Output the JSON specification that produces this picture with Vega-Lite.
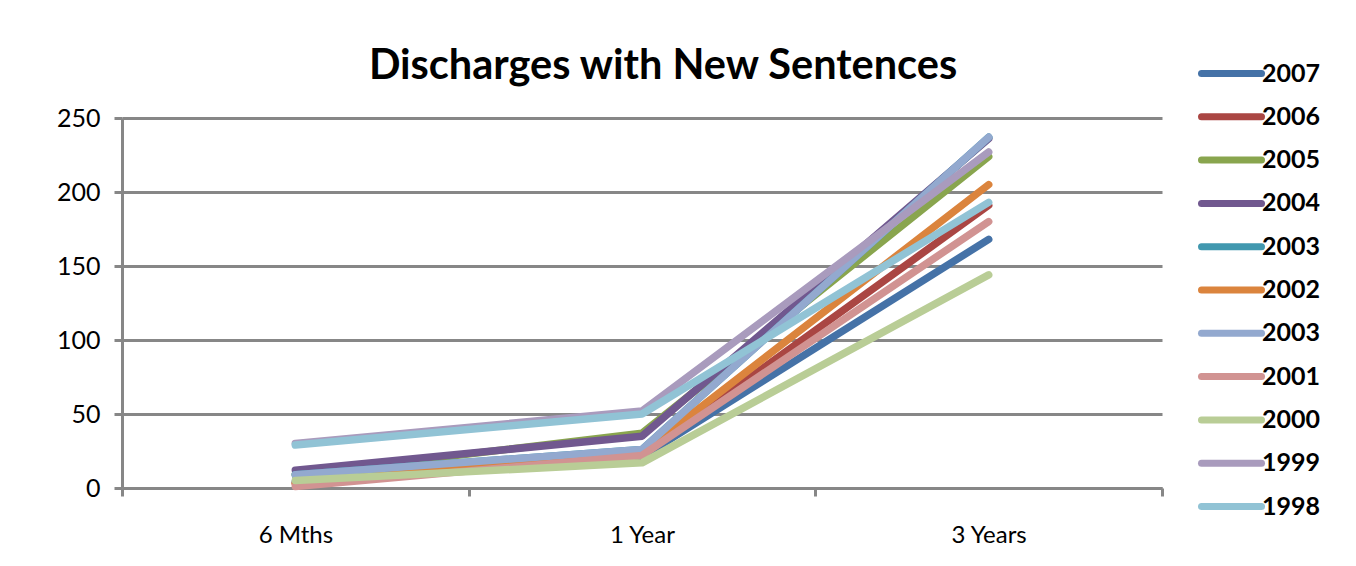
{
  "$schema": "https://vega.github.io/schema/vega-lite/v6.json",
  "width": 1040,
  "height": 370,
  "autosize": {"type": "none"},
  "padding": {"left": 122, "top": 118, "right": 194, "bottom": 78},
  "background": "white",
  "title": {"text": "Discharges with New Sentences", "font": "Lato", "fontSize": 41.5, "fontWeight": "bold", "color": "black", "anchor": "middle", "dx": 21, "dy": 46, "offset": 14},
  "data": {"values": [
    {"series": "2007", "period": "6 Mths", "value": 4}, {"series": "2007", "period": "1 Year", "value": 21}, {"series": "2007", "period": "3 Years", "value": 168},
    {"series": "2006", "period": "6 Mths", "value": 3}, {"series": "2006", "period": "1 Year", "value": 22}, {"series": "2006", "period": "3 Years", "value": 191},
    {"series": "2005", "period": "6 Mths", "value": 9}, {"series": "2005", "period": "1 Year", "value": 37}, {"series": "2005", "period": "3 Years", "value": 224},
    {"series": "2004", "period": "6 Mths", "value": 12}, {"series": "2004", "period": "1 Year", "value": 35}, {"series": "2004", "period": "3 Years", "value": 236},
    {"series": "2003", "period": "6 Mths", "value": 9}, {"series": "2003", "period": "1 Year", "value": 26}, {"series": "2003", "period": "3 Years", "value": 237},
    {"series": "2002", "period": "6 Mths", "value": 3}, {"series": "2002", "period": "1 Year", "value": 24}, {"series": "2002", "period": "3 Years", "value": 205},
    {"series": "2003b", "period": "6 Mths", "value": 9}, {"series": "2003b", "period": "1 Year", "value": 26}, {"series": "2003b", "period": "3 Years", "value": 237},
    {"series": "2001", "period": "6 Mths", "value": 1}, {"series": "2001", "period": "1 Year", "value": 22}, {"series": "2001", "period": "3 Years", "value": 180},
    {"series": "2000", "period": "6 Mths", "value": 5}, {"series": "2000", "period": "1 Year", "value": 17}, {"series": "2000", "period": "3 Years", "value": 144},
    {"series": "1999", "period": "6 Mths", "value": 30}, {"series": "1999", "period": "1 Year", "value": 52}, {"series": "1999", "period": "3 Years", "value": 227},
    {"series": "1998", "period": "6 Mths", "value": 29}, {"series": "1998", "period": "1 Year", "value": 50}, {"series": "1998", "period": "3 Years", "value": 193}
  ]},
  "mark": {"type": "line", "strokeWidth": 7.5, "strokeCap": "round", "strokeJoin": "round"},
  "encoding": {
    "x": {
      "field": "period", "type": "nominal", "sort": ["6 Mths", "1 Year", "3 Years"],
      "scale": {"type": "band", "paddingInner": 0, "paddingOuter": 0},
      "axis": {"title": null, "labelAngle": 0, "tickBand": "extent", "grid": false, "domainColor": "#878787", "domainWidth": 3, "tickColor": "#878787", "tickWidth": 3, "tickSize": 8, "labelFont": "Lato", "labelFontSize": 24, "labelColor": "black", "labelPadding": 27}
    },
    "y": {
      "field": "value", "type": "quantitative",
      "scale": {"domain": [0, 250], "nice": false, "zero": true},
      "axis": {"title": null, "values": [0, 50, 100, 150, 200, 250], "grid": true, "gridColor": "#878787", "gridWidth": 3, "domainColor": "#878787", "domainWidth": 3, "tickColor": "#878787", "tickWidth": 3, "tickSize": 8, "labelFont": "Lato", "labelFontSize": 25, "labelColor": "black", "labelPadding": 14}
    },
    "color": {
      "field": "series", "type": "nominal",
      "scale": {
        "domain": ["2007", "2006", "2005", "2004", "2003", "2002", "2003b", "2001", "2000", "1999", "1998"],
        "range": ["#4572A7", "#AA4643", "#89A54E", "#71588F", "#4198AF", "#DB843D", "#93A9CF", "#D19392", "#B9CD96", "#A99BBD", "#91C3D5"]
      },
      "legend": {
        "title": null, "orient": "none", "legendX": 1076, "legendY": -63,
        "symbolType": "M-1,0H3", "symbolSize": 900, "symbolStrokeWidth": 7,
        "labelFont": "Lato", "labelFontSize": 25, "labelFontWeight": "bold", "labelColor": "black",
        "labelOffset": 27, "rowPadding": 10.3,
        "labelExpr": "replace(datum.label, 'b', '')",
        "encode": {"symbols": {"update": {"strokeCap": {"value": "round"}}}}
      }
    }
  },
  "config": {"view": {"stroke": null}}
}
